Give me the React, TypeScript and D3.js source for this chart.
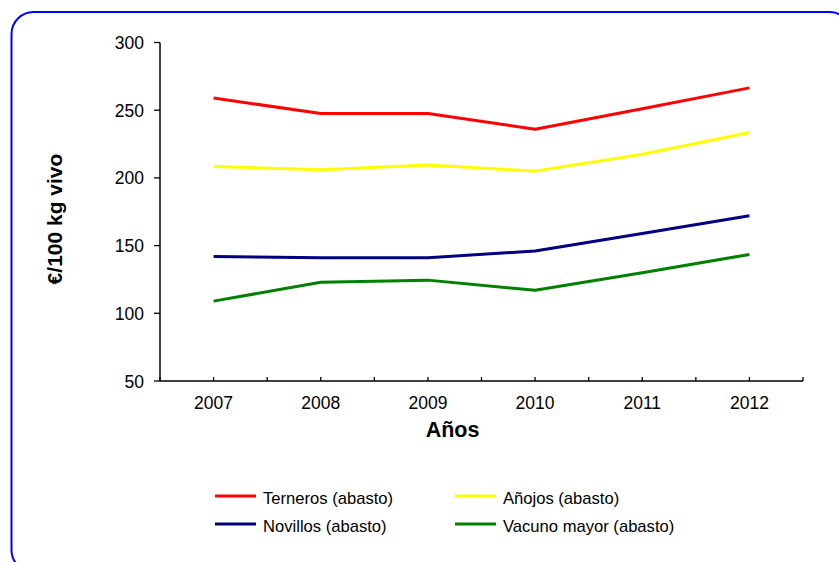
import React from "react";
import * as d3 from "d3";

const years = ["2007", "2008", "2009", "2010", "2011", "2012"];
const yTicks = [50, 100, 150, 200, 250, 300];
const terneros = [259, 247.5, 247.5, 236, 251, 266.5];
const anojos = [208.5, 206, 209.5, 205, 217.5, 233.5];
const novillos = [142, 141, 141, 146, 159, 172];
const vacuno = [109, 123, 124.5, 117, 130, 143.5];

const series = [
  { name: "Terneros (abasto)", values: terneros, color: "#ff0000" },
  { name: "Añojos (abasto)", values: anojos, color: "#ffff00" },
  { name: "Novillos (abasto)", values: novillos, color: "#000080" },
  { name: "Vacuno mayor (abasto)", values: vacuno, color: "#008000" },
];

export default function App() {
  const left = 160, right = 803, top = 42.5, bottom = 381;
  const x = d3.scaleBand<string>().domain(years).range([left, right]);
  const y = d3.scaleLinear().domain([50, 300]).range([bottom, top]);
  const cx = (yr: string) => (x(yr) as number) + x.bandwidth() / 2;
  const line = d3
    .line<number>()
    .x((_, i) => cx(years[i]))
    .y((v) => y(v));
  const font = "Liberation Sans, Arial, sans-serif";
  const xTickPos: number[] = [];
  for (let i = 0; i <= years.length * 2; i++) xTickPos.push(left + (i * x.bandwidth()) / 2);

  const legendPos = [
    { lx: 215, ty: 496 },
    { lx: 455, ty: 496 },
    { lx: 215, ty: 524 },
    { lx: 455, ty: 524 },
  ];

  return (
    <svg
      width={839}
      height={562}
      style={{ position: "absolute", left: 0, top: 0, background: "#fff" }}
      fontFamily={font}
    >
      <rect x={11.5} y={12} width={840} height={560} rx={22} ry={22} fill="#fff" stroke="#0000ff" strokeWidth={2} />
      {/* y axis */}
      <line x1={left} x2={left} y1={top} y2={bottom} stroke="#000" strokeWidth={1.5} />
      {yTicks.map((t) => (
        <g key={t}>
          <line x1={left - 6} x2={left} y1={y(t)} y2={y(t)} stroke="#000" strokeWidth={1.3} />
          <text x={144} y={y(t) + 6.5} textAnchor="end" fontSize={17.5} fill="#000">
            {t}
          </text>
        </g>
      ))}
      {/* x axis */}
      <line x1={left} x2={right} y1={bottom} y2={bottom} stroke="#000" strokeWidth={1.5} />
      {xTickPos.map((p, i) => (
        <line key={i} x1={p} x2={p} y1={bottom - 4} y2={bottom} stroke="#000" strokeWidth={1.3} />
      ))}
      {years.map((yr) => (
        <text key={yr} x={cx(yr)} y={409} textAnchor="middle" fontSize={17.5} fill="#000">
          {yr}
        </text>
      ))}
      <text x={452.5} y={437} textAnchor="middle" fontSize={21.5} fontWeight="bold" fill="#000">
        Años
      </text>
      <text
        transform={`translate(61.5,219) rotate(-90)`}
        textAnchor="middle"
        fontSize={21}
        fontWeight="bold"
        fill="#000"
      >
        €/100 kg vivo
      </text>
      {series.map((s) => (
        <path key={s.name} d={line(s.values) || ""} fill="none" stroke={s.color} strokeWidth={3} strokeLinejoin="round" />
      ))}
      {series.map((s, i) => (
        <g key={s.name}>
          <line x1={legendPos[i].lx} x2={legendPos[i].lx + 41} y1={legendPos[i].ty} y2={legendPos[i].ty} stroke={s.color} strokeWidth={3} />
          <text x={legendPos[i].lx + 48} y={legendPos[i].ty + 7.5} fontSize={16.6} fill="#000">
            {s.name}
          </text>
        </g>
      ))}
    </svg>
  );
}
